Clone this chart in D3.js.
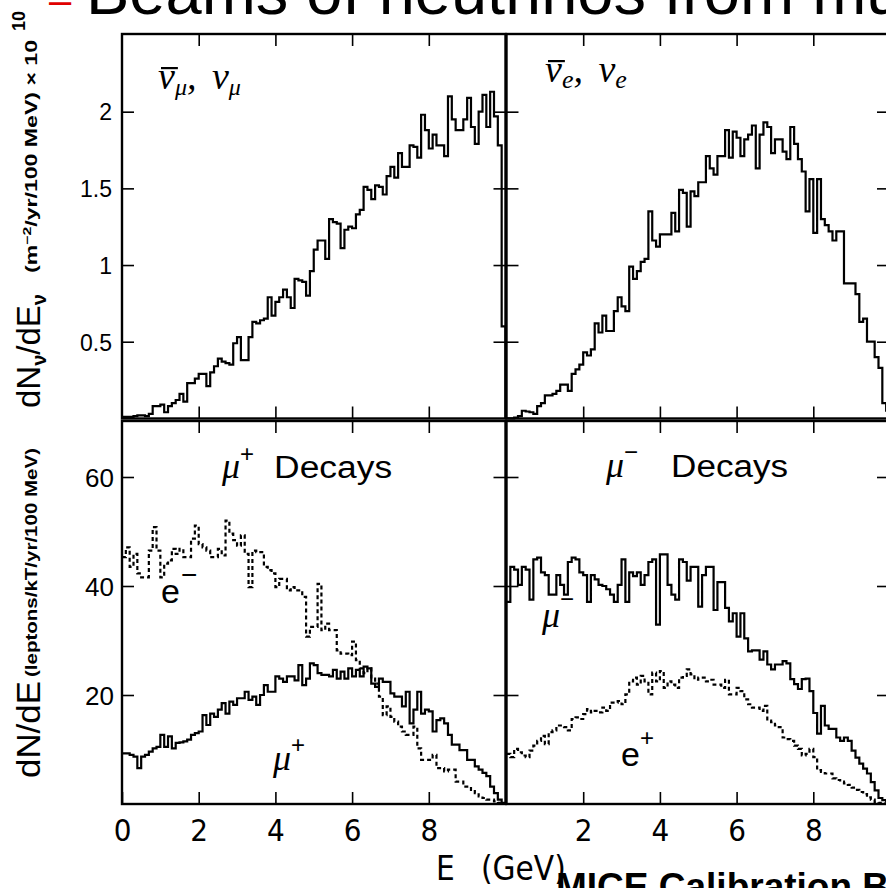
<!DOCTYPE html>
<html>
<head>
<meta charset="utf-8">
<script src="https://cdn.jsdelivr.net/npm/d3@7"></script>
<style>
  html, body { margin: 0; padding: 0; background: #fff; overflow: hidden; }
  svg { display: block; }
</style>
</head>
<body>
<svg id="chart" width="886" height="888"></svg>
<script>
// Energy bins: lower edge of each 100 MeV bin, 0 - 10 GeV
const energyBins = d3.range(100).map(i => +(i * 0.1).toFixed(1));

// Neutrino fluxes (units of 10^10 m^-2 / yr / 100 MeV)
const numuFlux = [
  0.01, 0.01, 0.01, 0.015, 0.02, 0.02, 0.015, 0.03, 0.08, 0.08,
  0.09, 0.04, 0.08, 0.10, 0.12, 0.16, 0.11, 0.23, 0.23, 0.26,
  0.29, 0.29, 0.21, 0.30, 0.34, 0.39, 0.37, 0.36, 0.35, 0.49,
  0.53, 0.38, 0.38, 0.53, 0.63, 0.62, 0.64, 0.65, 0.79, 0.67,
  0.76, 0.79, 0.84, 0.79, 0.72, 0.91, 0.90, 0.89, 0.80, 0.96,
  1.10, 1.16, 1.16, 1.04, 1.30, 1.28, 1.27, 1.11, 1.23, 1.25,
  1.24, 1.33, 1.36, 1.51, 1.49, 1.43, 1.52, 1.51, 1.46, 1.58,
  1.64, 1.57, 1.73, 1.64, 1.64, 1.78, 1.77, 1.70, 1.98, 1.88,
  1.76, 1.85, 1.78, 1.78, 1.71, 2.10, 1.95, 1.88, 1.88, 1.95,
  2.09, 1.90, 1.79, 2.00, 2.11, 1.90, 2.13, 1.97, 1.78, 0.60
];
const nueFlux = [
  0.00, 0.00, 0.005, 0.015, 0.05, 0.045, 0.04, 0.03, 0.08, 0.10,
  0.15, 0.15, 0.16, 0.18, 0.22, 0.22, 0.18, 0.29, 0.32, 0.35,
  0.43, 0.41, 0.45, 0.62, 0.56, 0.67, 0.57, 0.57, 0.70, 0.79,
  0.73, 0.70, 0.99, 0.91, 0.96, 1.02, 1.04, 1.35, 1.16, 1.12,
  1.20, 1.20, 1.20, 1.34, 1.22, 1.49, 1.47, 1.25, 1.48, 1.45,
  1.54, 1.54, 1.71, 1.63, 1.59, 1.71, 1.71, 1.88, 1.70, 1.87,
  1.83, 1.71, 1.82, 1.85, 1.91, 1.63, 1.85, 1.93, 1.90, 1.73,
  1.82, 1.82, 1.74, 1.69, 1.90, 1.79, 1.69, 1.61, 1.35, 1.56,
  1.21, 1.56, 1.30, 1.26, 1.22, 1.16, 1.22, 1.22, 0.88, 0.88,
  0.88, 0.81, 0.63, 0.65, 0.50, 0.50, 0.40, 0.33, 0.10, 0.05
];

// Lepton spectra (leptons / kT / yr / 100 MeV)
const muPlusMuons = [
  9.3, 9.3, 9.0, 8.7, 6.6, 8.7, 9.0, 9.6, 10.2, 10.5,
  12.7, 10.5, 12.4, 10.2, 11.2, 11.3, 11.5, 11.8, 12.7, 13.0,
  13.3, 16.3, 14.5, 16.6, 16.0, 17.3, 18.5, 16.6, 18.8, 18.2,
  19.4, 19.4, 20.6, 19.1, 19.7, 18.2, 20.0, 21.8, 20.6, 20.6,
  23.4, 23.0, 22.4, 23.4, 23.4, 22.7, 25.5, 21.8, 23.0, 25.8,
  25.5, 24.0, 23.7, 23.7, 23.4, 24.6, 23.0, 24.3, 23.0, 24.9,
  23.4, 24.6, 23.4, 25.2, 24.9, 22.1, 21.5, 23.0, 22.4, 22.4,
  20.3, 19.7, 19.7, 17.9, 20.6, 14.8, 17.3, 20.6, 16.6, 17.3,
  17.0, 13.3, 15.4, 15.7, 14.8, 12.7, 10.9, 10.9, 9.9, 9.9,
  8.1, 8.1, 6.9, 6.3, 5.7, 5.1, 3.2, 2.0, 0.8, 0.2
];
const muPlusElectrons = [
  45.3, 47.1, 43.5, 45.9, 42.3, 41.6, 41.6, 46.5, 50.8, 46.5,
  41.6, 44.1, 44.7, 46.8, 45.9, 46.8, 45.3, 45.3, 48.7, 51.1,
  47.7, 47.1, 46.5, 45.3, 45.3, 46.8, 45.6, 52.0, 49.6, 48.4,
  47.4, 49.3, 45.9, 39.8, 46.5, 46.2, 46.2, 43.5, 42.9, 42.3,
  39.8, 41.3, 41.3, 39.2, 39.8, 39.2, 39.2, 38.0, 30.7, 32.5,
  32.5, 40.4, 31.9, 33.1, 31.9, 31.9, 28.2, 27.6, 27.6, 27.3,
  29.8, 26.4, 24.9, 24.0, 24.9, 23.0, 22.1, 19.7, 16.3, 17.9,
  16.0, 15.1, 14.2, 13.3, 12.7, 12.7, 14.2, 10.2, 8.1, 8.1,
  8.1, 9.0, 6.6, 6.6, 6.0, 6.3, 6.3, 4.1, 4.1, 3.2,
  3.2, 2.6, 2.0, 1.4, 1.1, 0.8, 0.8, 0.5, 0.2, 0.1
];
const muMinusMuons = [
  37.1, 43.5, 43.0, 40.2, 43.5, 43.0, 37.5, 44.9, 45.2, 42.5,
  42.0, 38.4, 38.4, 42.0, 40.2, 38.4, 44.4, 45.2, 44.9, 42.5,
  42.0, 37.1, 42.0, 41.2, 40.2, 40.0, 39.4, 38.4, 37.1, 40.2,
  44.9, 37.1, 42.5, 41.8, 42.5, 40.2, 42.0, 44.4, 44.9, 32.9,
  45.8, 45.8, 40.2, 38.4, 37.5, 44.9, 44.4, 41.0, 43.5, 43.5,
  36.2, 42.0, 43.5, 43.5, 35.6, 40.7, 40.7, 36.0, 33.5, 35.0,
  30.7, 35.0, 30.4, 28.0, 28.2, 28.2, 26.5, 28.0, 25.6, 24.7,
  25.6, 25.6, 26.2, 25.8, 22.9, 22.0, 21.1, 22.9, 23.0, 20.7,
  16.7, 12.9, 18.0, 14.4, 13.8, 13.8, 12.2, 11.6, 12.2, 11.6,
  9.8, 8.5, 7.4, 6.5, 5.6, 4.0, 2.5, 1.1, 0.7, 0.5
];
const muMinusPositrons = [
  9.2, 8.6, 10.1, 9.5, 8.9, 8.6, 9.8, 10.7, 11.6, 12.5,
  11.0, 13.2, 13.5, 14.4, 14.4, 14.1, 13.5, 15.6, 15.9, 15.6,
  16.5, 17.4, 16.8, 17.1, 16.8, 17.7, 17.1, 18.6, 18.6, 18.9,
  18.3, 20.1, 22.5, 23.2, 21.9, 23.5, 22.5, 20.1, 24.1, 22.5,
  24.4, 21.3, 22.5, 21.9, 21.3, 23.2, 23.5, 24.7, 23.8, 22.8,
  23.2, 23.2, 22.5, 22.8, 21.9, 21.9, 21.3, 22.8, 20.1, 20.1,
  21.3, 20.7, 19.2, 18.3, 17.7, 17.7, 17.1, 18.0, 15.3, 15.0,
  14.4, 14.1, 12.2, 11.9, 11.6, 10.7, 10.1, 8.9, 9.2, 10.1,
  8.6, 6.2, 5.9, 5.6, 5.6, 4.7, 4.4, 4.1, 3.8, 3.5,
  3.0, 2.6, 2.2, 1.8, 1.2, 0.8, 0.4, 0.2, 0.1, 0.1
];

// Axis ticks
const energyTicks = [2, 4, 6, 8];
const energyTickLabelsLeft = [0, 2, 4, 6, 8];
const fluxTicks = [0.5, 1, 1.5, 2];
const leptonTicks = [20, 40, 60];

const svg = d3.select("#chart");
const SANS = "'Liberation Sans', Arial, sans-serif";
const NARROW = "'Liberation Sans Narrow', 'DejaVu Sans Condensed', sans-serif";
const SERIF = "'Liberation Serif', 'Times New Roman', serif";

// Scales: two columns share the energy axis, two rows with different quantities
const xLeft = d3.scaleLinear().domain([0, 10]).range([122, 505.5]);
const xRight = d3.scaleLinear().domain([0, 10]).range([506.5, 890]);
const yTop = d3.scaleLinear().domain([0, 2.5]).range([418.4, 35]);
const yBot = d3.scaleLinear().domain([0, 70]).range([804, 422.5]);

const panels = [
  { x: xLeft,  y: yTop, yTicks: fluxTicks,   yLabels: true,  xLabels: null },
  { x: xRight, y: yTop, yTicks: fluxTicks,   yLabels: false, xLabels: null },
  { x: xLeft,  y: yBot, yTicks: leptonTicks, yLabels: true,  xLabels: energyTickLabelsLeft },
  { x: xRight, y: yBot, yTicks: leptonTicks, yLabels: false, xLabels: energyTicks }
];

const TICK = 12;

panels.forEach(p => {
  const [x0, x1] = p.x.range();
  const g = svg.append("g");
  const top = p.y === yTop ? 34 : 421;
  const bottom = p.y === yTop ? 418.5 : 804;

  // inward ticks on all four edges
  g.append("g").attr("transform", `translate(0,${top})`)
    .call(d3.axisTop(p.x).tickValues(energyTicks).tickSize(-TICK).tickFormat(""));
  g.append("g").attr("transform", `translate(0,${bottom})`)
    .call(d3.axisBottom(p.x).tickValues(p.xLabels || energyTicks).tickSize(-TICK)
      .tickFormat(p.xLabels ? d3.format("d") : ""));
  g.append("g").attr("transform", `translate(${x0},0)`)
    .call(d3.axisLeft(p.y).tickValues(p.yTicks).tickSize(-TICK)
      .tickFormat(p.yLabels ? (d => String(d)) : ""));
  g.append("g").attr("transform", `translate(${Math.min(x1, 889)},0)`)
    .call(d3.axisRight(p.y).tickValues(p.yTicks).tickSize(-TICK).tickFormat(""));

  g.selectAll(".domain").remove();
  g.selectAll(".tick line").attr("stroke", "#000").attr("stroke-width", 1.6);

  // frame
  g.append("rect")
    .attr("x", x0).attr("y", top)
    .attr("width", x1 - x0).attr("height", bottom - top)
    .attr("fill", "none").attr("stroke", "#000").attr("stroke-width", 2.4);
});

// tick label styling
svg.selectAll("g.tick text").attr("fill", "#000");
// energy tick labels
svg.selectAll("g.tick text").filter(function () {
  return this.parentNode.parentNode.getAttribute("transform") === "translate(0,804)";
}).attr("font-family", NARROW).attr("font-size", 31).attr("y", 37).attr("dy", 0);

// flux labels (top row) and lepton labels (bottom row)
svg.selectAll("g.tick text").filter(function () {
  const tr = this.parentNode.parentNode.getAttribute("transform");
  return tr === "translate(122,0)";
}).each(function (d) {
  const sel = d3.select(this);
  const isFlux = fluxTicks.includes(d) && +d < 5;
  sel.attr("font-family", SANS)
    .attr("font-size", isFlux ? 23 : 26)
    .attr("x", isFlux ? -10 : -8)
    .attr("dy", "0.36em")
    .attr("text-anchor", "end");
});

// Step-histogram path from a series of per-bin values
function histPath(x, y, values) {
  const pts = values.map((v, i) => [energyBins[i], v]);
  pts.push([10, values[values.length - 1]]);
  pts.push([10, 0]);
  return d3.line().x(d => x(d[0])).y(d => y(d[1])).curve(d3.curveStepAfter)(pts);
}

const series = [
  { x: xLeft,  y: yTop, v: numuFlux,         dash: null },
  { x: xRight, y: yTop, v: nueFlux,          dash: null },
  { x: xLeft,  y: yBot, v: muPlusElectrons,  dash: "4 3" },
  { x: xLeft,  y: yBot, v: muPlusMuons,      dash: null },
  { x: xRight, y: yBot, v: muMinusPositrons, dash: "4 3" },
  { x: xRight, y: yBot, v: muMinusMuons,     dash: null }
];
series.forEach(s => {
  svg.append("path")
    .attr("d", histPath(s.x, s.y, s.v))
    .attr("fill", "none")
    .attr("stroke", "#000")
    .attr("stroke-width", s.dash ? 2.2 : 2.2)
    .attr("stroke-dasharray", s.dash)
    .attr("stroke-linejoin", "miter");
});

// ---- panel annotations ----
function label(x, y, parts, family, style) {
  const t = svg.append("text").attr("x", x).attr("y", y)
    .attr("font-family", family).attr("font-style", style || "normal").attr("fill", "#000");
  parts.forEach(p => {
    const ts = t.append("tspan").text(p.t).attr("font-size", p.size);
    if (p.dy) ts.attr("dy", p.dy);
    if (p.dx) ts.attr("dx", p.dx);
    if (p.family) ts.attr("font-family", p.family).attr("font-style", p.style || "normal");
    if (p.len) ts.attr("textLength", p.len).attr("lengthAdjust", "spacingAndGlyphs");
  });
  return t;
}
// overline for the antineutrino symbol (first character of a label)
function overline(t, size) {
  const node = t.node();
  const a = node.getStartPositionOfChar(0);
  const b = node.getEndPositionOfChar(0);
  svg.append("line")
    .attr("x1", a.x + 3).attr("x2", b.x + 3)
    .attr("y1", a.y - size * 0.55).attr("y2", a.y - size * 0.55)
    .attr("stroke", "#000").attr("stroke-width", 2.2);
}

const nuMu = label(158, 89, [
  { t: "ν", size: 38 }, { t: "μ", size: 24, dy: 6 },
  { t: ",", size: 38, dy: -6 }, { t: " ν", size: 38, dx: 6 }, { t: "μ", size: 24, dy: 6 }
], SERIF, "italic");
overline(nuMu, 38);

const nuE = label(545, 82, [
  { t: "ν", size: 38 }, { t: "e", size: 26, dy: 6 },
  { t: ",", size: 38, dy: -6 }, { t: " ν", size: 38, dx: 6 }, { t: "e", size: 26, dy: 6 }
], SERIF, "italic");
overline(nuE, 38);

label(222, 478, [
  { t: "μ", size: 36 }, { t: "+", size: 24, dy: -16, family: SANS },
  { t: "Decays", size: 31, dy: 16, dx: 20, family: SANS, len: 118 }
], SERIF, "italic");

label(606, 477, [
  { t: "μ", size: 36 }, { t: "−", size: 24, dy: -17, family: SANS },
  { t: "Decays", size: 31, dy: 17, dx: 33, family: SANS, len: 117 }
], SERIF, "italic");

label(161, 603, [
  { t: "e", size: 34 }, { t: "−", size: 28, dy: -19, dx: 1 }
], SANS);

label(273, 770, [
  { t: "μ", size: 36 }, { t: "+", size: 24, dy: -17, family: SANS }
], SERIF, "italic");

label(542, 627, [
  { t: "μ", size: 36 }, { t: "−", size: 24, dy: -20, family: SANS }
], SERIF, "italic");

label(621, 766, [
  { t: "e", size: 34 }, { t: "+", size: 24, dy: -20 }
], SANS);

// ---- axis titles ----
svg.append("text")
  .attr("transform", "translate(40,408) rotate(-90)")
  .attr("font-family", SANS).attr("fill", "#000")
  .call(t => {
    t.append("tspan").text("dN").attr("font-size", 33);
    t.append("tspan").text("ν").attr("font-size", 20).attr("font-weight", "bold").attr("dy", 6);
    t.append("tspan").text("/dE").attr("font-size", 33).attr("dy", -6);
    t.append("tspan").text("ν").attr("font-size", 20).attr("font-weight", "bold").attr("dy", 6);
  });
svg.append("text")
  .attr("transform", "translate(37,273) rotate(-90)")
  .attr("font-family", SANS).attr("font-size", 16).attr("font-weight", "bold").attr("fill", "#000")
  .call(t => {
    t.append("tspan").text("(m");
    t.append("tspan").text("−2").attr("font-size", 11).attr("dy", -6);
    t.append("tspan").text("/yr/100 MeV) × 10").attr("dy", 6);
  })
  .attr("textLength", 233).attr("lengthAdjust", "spacingAndGlyphs");
svg.append("text")
  .attr("transform", "translate(25,31) rotate(-90)")
  .attr("font-family", SANS).attr("font-size", 18).attr("font-weight", "bold").attr("fill", "#000")
  .text("10");

svg.append("text")
  .attr("transform", "translate(40,778) rotate(-90)")
  .attr("font-family", SANS).attr("font-size", 33).attr("fill", "#000")
  .attr("textLength", 97).attr("lengthAdjust", "spacingAndGlyphs")
  .text("dN/dE");
svg.append("text")
  .attr("transform", "translate(37,677) rotate(-90)")
  .attr("font-family", SANS).attr("font-size", 17).attr("font-weight", "bold").attr("fill", "#000")
  .attr("textLength", 229).attr("lengthAdjust", "spacingAndGlyphs")
  .text("(leptons/kT/yr/100 MeV)");

svg.append("text")
  .attr("x", 436).attr("y", 880)
  .attr("font-family", NARROW).attr("font-size", 33).attr("fill", "#000")
  .text("E");
svg.append("text")
  .attr("x", 481).attr("y", 880)
  .attr("font-family", NARROW).attr("font-size", 33).attr("fill", "#000")
  .text("(GeV)");

// ---- slide title and footer ----
svg.append("text")
  .attr("x", 49).attr("y", 14)
  .attr("font-family", SANS).attr("font-size", 40).attr("fill", "#e00000")
  .text("–");
svg.append("text")
  .attr("x", 86).attr("y", 14)
  .attr("font-family", SANS).attr("font-size", 65).attr("fill", "#000")
  .text("Beams of neutrinos from muon decays");
svg.append("text")
  .attr("x", 556).attr("y", 899)
  .attr("font-family", SANS).attr("font-size", 37).attr("font-weight", "bold").attr("fill", "#000")
  .text("MICE Calibration Beam");
</script>
</body>
</html>
